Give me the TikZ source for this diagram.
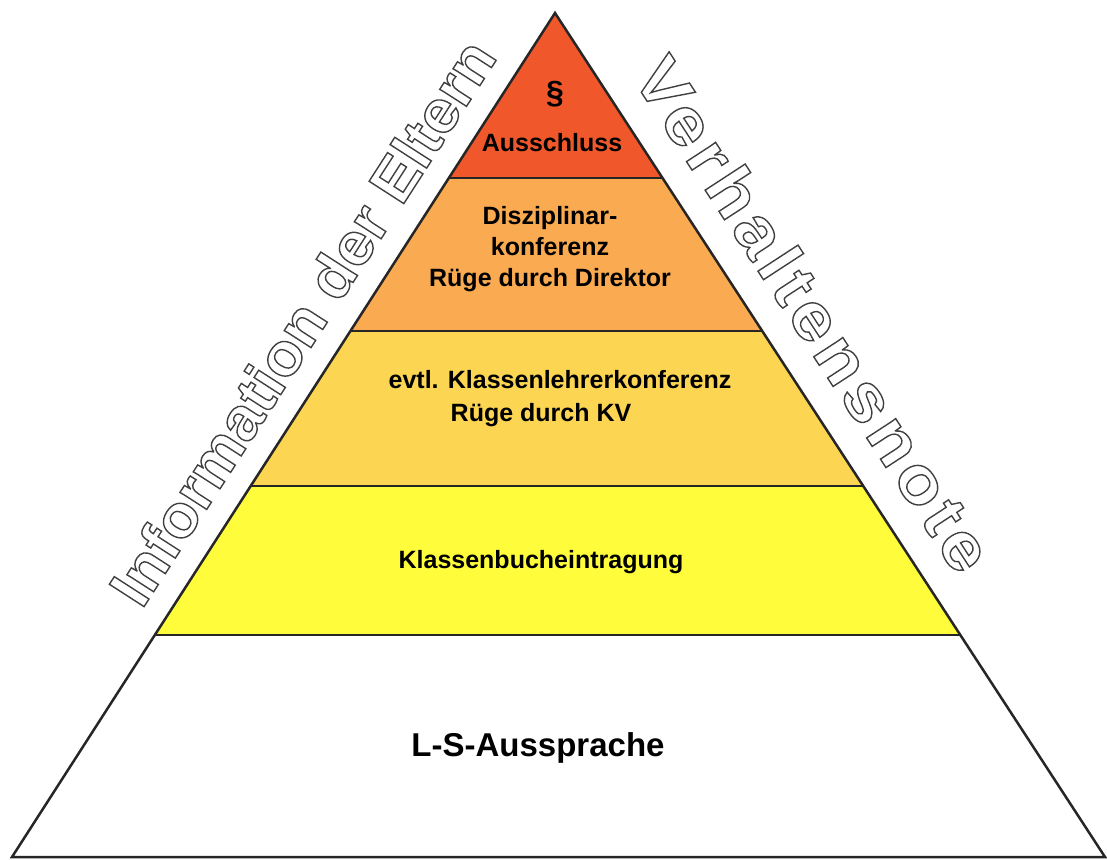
\documentclass[tikz,border=0pt]{standalone}
\usepackage{fontspec}
\setmainfont{Liberation Sans}
\newfontfamily\hohl{Liberation Sans}[FakeStretch=1.05]
\newfontfamily\hohlweit{Liberation Sans}[FakeStretch=1.12, LetterSpace=8]
\usepackage{xcolor}
\usetikzlibrary{calc}

\definecolor{stufeA}{RGB}{240,88,44}
\definecolor{stufeB}{RGB}{250,170,80}
\definecolor{stufeC}{RGB}{252,214,82}
\definecolor{stufeD}{RGB}{255,252,60}

% hohle Schrift (nur Umriss)
\newcommand{\umriss}[1]{\special{pdf:literal direct 1 Tr 1.4 w}#1\special{pdf:literal direct 0 Tr}}

\begin{document}
\begin{tikzpicture}[x=1pt,y=-1pt]

\tikzset{
    text25/.style = {
    font=\bfseries\fontsize{25}{31}\selectfont
    }
}

\tikzstyle{beschriftung}=[text25, align=center, inner sep=0pt]
\tikzstyle{stufe}=[draw=black!85, line width=2pt]
\tikzstyle{rand}=[draw=black!85, line width=2.5pt, line join=miter]
\tikzstyle{seite}=[text=black!75, inner sep=0pt]

\useasboundingbox (0,0) rectangle (1107,859);

\coordinate (spitze) at (555,13);
\coordinate (links) at (12,857);
\coordinate (rechts) at (1105,857);

\coordinate (l-1) at ($(spitze)!0.1955!(links)$);
\coordinate (r-1) at ($(spitze)!0.1955!(rechts)$);
\coordinate (l-2) at ($(spitze)!0.3768!(links)$);
\coordinate (r-2) at ($(spitze)!0.3768!(rechts)$);
\coordinate (l-3) at ($(spitze)!0.5604!(links)$);
\coordinate (r-3) at ($(spitze)!0.5604!(rechts)$);
\coordinate (l-4) at ($(spitze)!0.737!(links)$);
\coordinate (r-4) at ($(spitze)!0.737!(rechts)$);

% Stufen
\fill[stufeA] (spitze) -- (r-1) -- (l-1) -- cycle;
\fill[stufeB] (l-1) -- (r-1) -- (r-2) -- (l-2) -- cycle;
\fill[stufeC] (l-2) -- (r-2) -- (r-3) -- (l-3) -- cycle;
\fill[stufeD] (l-3) -- (r-3) -- (r-4) -- (l-4) -- cycle;

\draw[stufe] (l-1) -- (r-1);
\draw[stufe] (l-2) -- (r-2);
\draw[stufe] (l-3) -- (r-3);
\draw[stufe] (l-4) -- (r-4);

\draw[rand] (spitze) -- (links) -- (rechts) -- cycle;

\node (para) [beschriftung] at (555,94) {\fontsize{32}{32}\selectfont\S};
\node (ausschluss) [beschriftung] at (552,143) {Ausschluss};
\node (disziplinar) [beschriftung] at (550,249) {Disziplinar-\\konferenz\\R\"uge durch Direktor};
\node (klk) [beschriftung] at (560,380) {evtl. Klassenlehrerkonferenz};
\node (kv) [beschriftung] at (541,415) {R\"uge durch KV};
\node (klassenbuch) [beschriftung] at (541,562) {Klassenbucheintragung};
\node (aussprache) [beschriftung, font=\bfseries\fontsize{33}{33}\selectfont] at (538,748) {L-S-Aussprache};

\node (eltern) [seite, rotate=57.2, font=\hohl\bfseries\fontsize{60}{60}\selectfont] at (302,322) {\umriss{Information der Eltern}};
\node (note) [seite, rotate=-56.9, font=\hohlweit\bfseries\fontsize{66}{66}\selectfont] at (814,314) {\umriss{Verhaltensnote}};

\end{tikzpicture}
\end{document}
